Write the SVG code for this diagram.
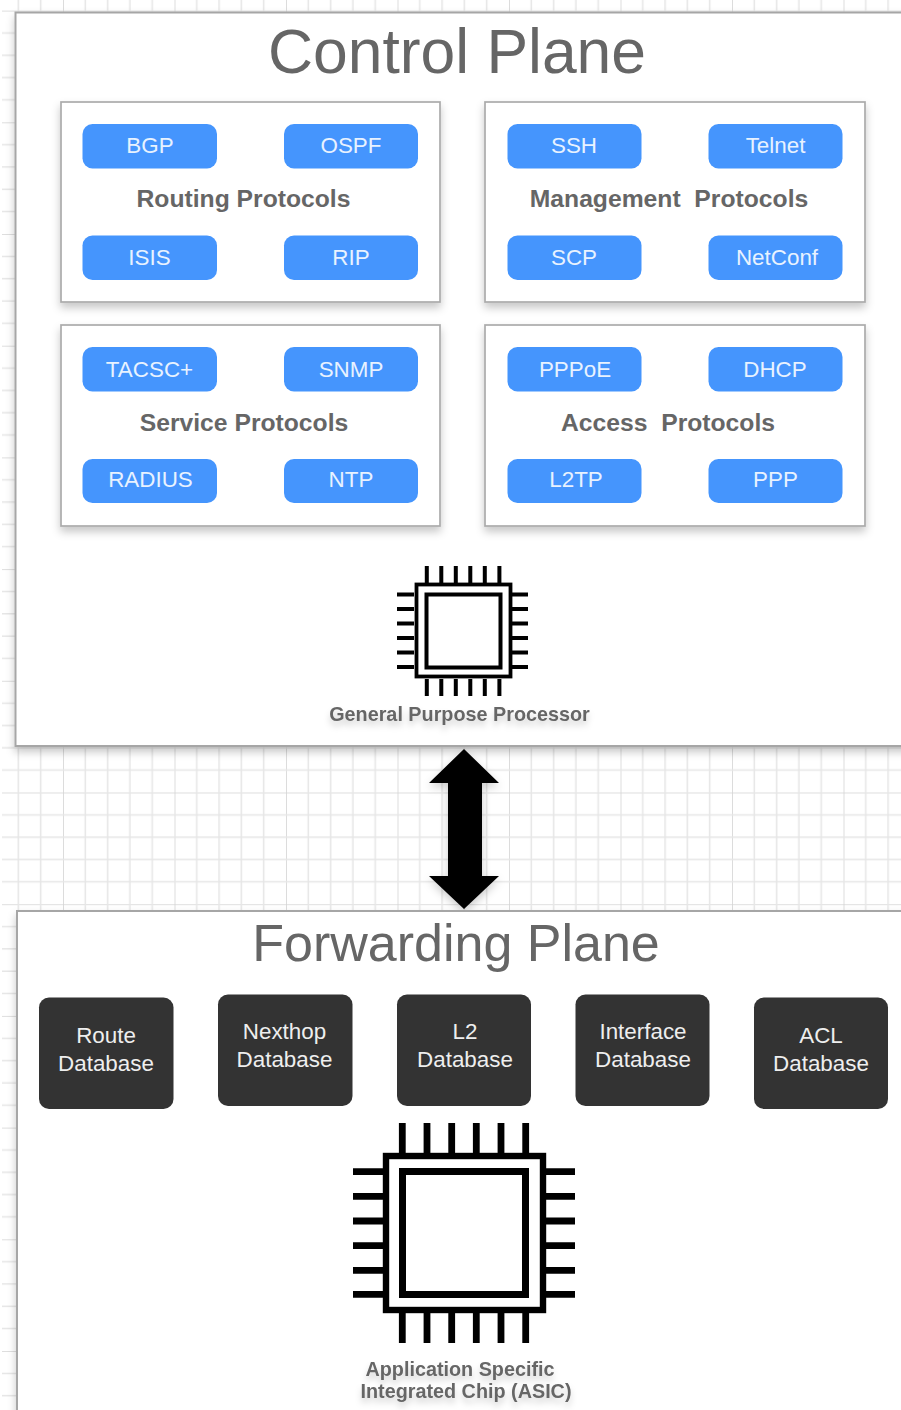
<svg xmlns="http://www.w3.org/2000/svg" width="901" height="1410" viewBox="0 0 901 1410">
<style>
text{font-family:"Liberation Sans",Arial,sans-serif;text-anchor:middle;white-space:pre}
.panel{fill:#fff;stroke:#a6a6a6;stroke-width:2}
.sub{fill:#fff;stroke:#ababab;stroke-width:1.700;filter:url(#sh)}
.btn{fill:#4595fd}
.btn-t{fill:#e8f2ff;font-size:22.400px}
.db{fill:#333}
.db-t{fill:#eee;font-size:22.400px}
.title{fill:#666}
.cap{fill:#666;font-weight:bold;font-size:24.700px}
.small{fill:#666;font-weight:bold;font-size:19.800px;filter:url(#tsh)}
.chip{fill:none;stroke:#000}
</style>
<defs>
<pattern id="grid" patternUnits="userSpaceOnUse" x="63" y="10.600" width="111.500" height="111.700">
<path d="M0 0V111.700M0 0H111.500" fill="none" stroke="#d4d4d4" stroke-width="1.600"/>
<path d="M22.300 0V111.700M44.600 0V111.700M66.900 0V111.700M89.200 0V111.700M0 22.340H111.500M0 44.680H111.500M0 67H111.500M0 89.360H111.500" fill="none" stroke="#e6e6e6" stroke-width="1.500"/>
</pattern>
<filter id="sh" x="-5%" y="-5%" width="110%" height="115%"><feDropShadow dx="0" dy="5" stdDeviation="4" flood-color="#000" flood-opacity="0.22"/></filter>
<filter id="tsh" x="-5%" y="-30%" width="110%" height="190%"><feDropShadow dx="0" dy="5" stdDeviation="3" flood-color="#000" flood-opacity="0.18"/></filter>
<filter id="soft" x="-20%" y="-5%" width="140%" height="110%"><feDropShadow dx="0" dy="4" stdDeviation="4" flood-color="#000" flood-opacity="0.2"/></filter>
<path id="pins" d="M0 0V17M14.500 0V17M29 0V17M43.500 0V17M58 0V17M72.600 0V17" fill="none" stroke="#000" stroke-width="4"/>
</defs>
<rect x="2" y="0" width="899" height="1410" fill="url(#grid)"/>

<g id="control-plane">
<rect class="panel" x="15.500" y="12.500" width="900" height="733.500" filter="url(#sh)"/>
<text class="title" x="457" y="73" font-size="62.400">Control Plane</text>
</g>
<g id="routing-protocols">
<rect class="sub" x="61" y="102" width="379" height="200"/>
<text class="cap" x="243.500" y="207">Routing Protocols</text>
</g>
<g id="management-protocols">
<rect class="sub" x="485" y="102" width="380" height="200"/>
<text class="cap" x="669" y="207">Management  Protocols</text>
</g>
<g id="service-protocols">
<rect class="sub" x="61" y="325" width="379" height="201"/>
<text class="cap" x="244" y="431">Service Protocols</text>
</g>
<g id="access-protocols">
<rect class="sub" x="485" y="325" width="380" height="201"/>
<text class="cap" x="668" y="431">Access  Protocols</text>
</g>

<g id="bgp"><rect class="btn" x="82.500" y="124" width="134.500" height="44.500" rx="10"/><text class="btn-t" x="150" y="153">BGP</text></g>
<g id="ospf"><rect class="btn" x="284" y="124" width="134" height="44.500" rx="10"/><text class="btn-t" x="351" y="153">OSPF</text></g>
<g id="isis"><rect class="btn" x="82.500" y="235.500" width="134.500" height="44.500" rx="10"/><text class="btn-t" x="149.500" y="265">ISIS</text></g>
<g id="rip"><rect class="btn" x="284" y="235.500" width="134" height="44.500" rx="10"/><text class="btn-t" x="351" y="265">RIP</text></g>
<g id="ssh"><rect class="btn" x="507.500" y="124" width="134" height="44.500" rx="10"/><text class="btn-t" x="574" y="153">SSH</text></g>
<g id="telnet"><rect class="btn" x="708.500" y="124" width="134" height="44.500" rx="10"/><text class="btn-t" x="775.500" y="153">Telnet</text></g>
<g id="scp"><rect class="btn" x="507.500" y="235.500" width="134" height="44.500" rx="10"/><text class="btn-t" x="574" y="265">SCP</text></g>
<g id="netconf"><rect class="btn" x="708.500" y="235.500" width="134" height="44.500" rx="10"/><text class="btn-t" x="777" y="265">NetConf</text></g>
<g id="tacsc"><rect class="btn" x="82.500" y="347" width="134.500" height="44.500" rx="10"/><text class="btn-t" x="149.500" y="377">TACSC+</text></g>
<g id="snmp"><rect class="btn" x="284" y="347" width="134" height="44.500" rx="10"/><text class="btn-t" x="351" y="377">SNMP</text></g>
<g id="radius"><rect class="btn" x="82.500" y="459" width="134.500" height="44" rx="10"/><text class="btn-t" x="150.500" y="487">RADIUS</text></g>
<g id="ntp"><rect class="btn" x="284" y="459" width="134" height="44" rx="10"/><text class="btn-t" x="351" y="487">NTP</text></g>
<g id="pppoe"><rect class="btn" x="507.500" y="347" width="134" height="44.500" rx="10"/><text class="btn-t" x="575" y="377">PPPoE</text></g>
<g id="dhcp"><rect class="btn" x="708.500" y="347" width="134" height="44.500" rx="10"/><text class="btn-t" x="775" y="377">DHCP</text></g>
<g id="l2tp"><rect class="btn" x="507.500" y="459" width="134" height="44" rx="10"/><text class="btn-t" x="576" y="487">L2TP</text></g>
<g id="ppp"><rect class="btn" x="708.500" y="459" width="134" height="44" rx="10"/><text class="btn-t" x="775.500" y="487">PPP</text></g>

<g id="general-purpose-processor">
<rect class="chip" x="416.500" y="584.500" width="94" height="92" stroke-width="3.800"/>
<rect class="chip" x="426.500" y="594.500" width="74" height="73" stroke-width="4"/>
<use href="#pins" x="426.800" y="566"/>
<use href="#pins" x="426.800" y="679"/>
<use href="#pins" transform="translate(397 594.500) rotate(-90) scale(-1 1)"/>
<use href="#pins" transform="translate(511 594.500) rotate(-90) scale(-1 1)"/>
<text class="small" x="459.500" y="721">General Purpose Processor</text>
</g>

<g id="connectors">
<path id="plane-link" d="M464 749L499 783H482V876H499L464 909L429 876H448V783H429Z" fill="#000" filter="url(#soft)"/>
</g>

<g id="forwarding-plane">
<rect class="panel" x="17" y="911" width="900" height="520" filter="url(#sh)"/>
<text class="title" x="456" y="961" font-size="52">Forwarding Plane</text>
</g>
<g id="route-db"><rect class="db" x="39" y="997.500" width="134.500" height="111.500" rx="10"/><text class="db-t" x="106" y="1043">Route</text><text class="db-t" x="106" y="1071">Database</text></g>
<g id="nexthop-db"><rect class="db" x="218" y="994.500" width="134.500" height="111.500" rx="10"/><text class="db-t" x="284.500" y="1039">Nexthop</text><text class="db-t" x="284.500" y="1067">Database</text></g>
<g id="l2-db"><rect class="db" x="397" y="994.500" width="134" height="111.500" rx="10"/><text class="db-t" x="465" y="1039">L2</text><text class="db-t" x="465" y="1067">Database</text></g>
<g id="interface-db"><rect class="db" x="575.500" y="994.500" width="134" height="111.500" rx="10"/><text class="db-t" x="643" y="1039">Interface</text><text class="db-t" x="643" y="1067">Database</text></g>
<g id="acl-db"><rect class="db" x="754" y="997.500" width="134" height="111.500" rx="10"/><text class="db-t" x="821" y="1043">ACL</text><text class="db-t" x="821" y="1071">Database</text></g>

<g id="asic">
<rect class="chip" x="386" y="1156" width="157" height="154" stroke-width="6.400"/>
<rect class="chip" x="402.500" y="1171.500" width="123" height="123" stroke-width="7"/>
<path class="chip" stroke-width="6.800" d="M402.300 1123V1153M427 1123V1153M451.700 1123V1153M476.300 1123V1153M501 1123V1153M525.700 1123V1153M402.300 1313V1343M427 1313V1343M451.700 1313V1343M476.300 1313V1343M501 1313V1343M525.700 1313V1343M353 1171.700H383M353 1196.300H383M353 1221H383M353 1245.700H383M353 1270.300H383M353 1294.300H383M546 1171.700H575M546 1196.300H575M546 1221H575M546 1245.700H575M546 1270.300H575M546 1294.300H575"/>
<text class="small" x="460" y="1376">Application Specific</text>
<text class="small" x="466" y="1398">Integrated Chip (ASIC)</text>
</g>
</svg>
